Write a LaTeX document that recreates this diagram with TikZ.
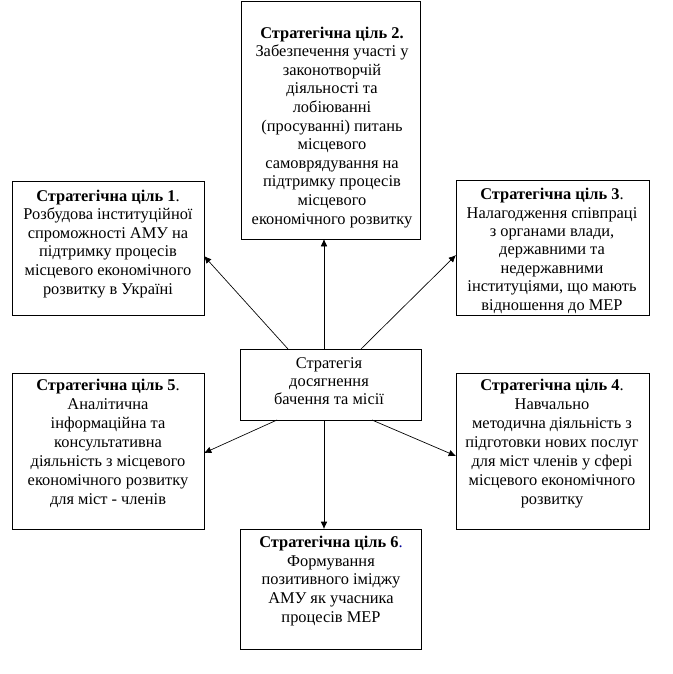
\documentclass[tikz,border=0pt]{standalone}
\usepackage{fontspec}
\setmainfont{Liberation Serif}
\usetikzlibrary{arrows.meta,calc}
\begin{document}
\begin{tikzpicture}[x=0.75pt,y=-0.75pt,
  box/.style={draw, line width=0.75pt, inner sep=0pt, outer sep=0pt, anchor=north west},
  txt/.style={inner sep=0pt, align=center, anchor=base},
  conn/.style={line width=0.5pt, -{Latex[length=5.5pt,width=5pt]}}]
\useasboundingbox (0,0) rectangle (673,674);
% boxes
\node[box, minimum width=144pt, minimum height=100.5pt] (b1) at (12,181) {};
\node[box, minimum width=134.25pt, minimum height=177.75pt] (b2) at (241,2) {};
\node[box, minimum width=144.75pt, minimum height=101.25pt] (b3) at (456,180) {};
\node[box, minimum width=135.75pt, minimum height=53.25pt] (c) at (240,349) {};
\node[box, minimum width=144pt, minimum height=117pt] (b5) at (12,373) {};
\node[box, minimum width=144.75pt, minimum height=117pt] (b4) at (456,373) {};
\node[box, minimum width=135.75pt, minimum height=90pt] (b6) at (240,529) {};
% texts (anchored at the baseline of their last line)
\node[txt, font=\fontsize{12.3}{13.9}\selectfont] (t1) at (108,294) {\textbf{Стратегічна ціль 1}.\\Розбудова інституційної\\спроможності АМУ на\\підтримку процесів\\місцевого економічного\\розвитку в Україні};
\node[txt, font=\fontsize{12.3}{13.95}\selectfont] (t2) at (332,224) {\textbf{Стратегічна ціль 2.}\\Забезпечення участі у\\законотворчій\\діяльності та\\лобіюванні\\(просуванні) питань\\місцевого\\самоврядування на\\підтримку процесів\\місцевого\\економічного розвитку};
\node[txt, font=\fontsize{12.3}{13.8}\selectfont] (t3) at (552,310) {\textbf{Стратегічна ціль 3}.\\Налагодження співпраці\\з органами влади,\\державними та\\недержавними\\інституціями, що мають\\відношення до МЕР};
\node[txt, font=\fontsize{12.3}{13.5}\selectfont] (tc) at (329,404) {Стратегія\\досягнення\\бачення та місії};
\node[txt, font=\fontsize{12.3}{14.2}\selectfont] (t5) at (108,504) {\textbf{Стратегічна ціль 5}.\\Аналітична\\інформаційна та\\консультативна\\діяльність з місцевого\\економічного розвитку\\для міст - членів};
\node[txt, font=\fontsize{12.3}{14.2}\selectfont] (t4) at (552,504) {\textbf{Стратегічна ціль 4}.\\Навчально\\методична діяльність з\\підготовки нових послуг\\для міст членів у сфері\\місцевого економічного\\розвитку};
\node[txt, font=\fontsize{12.3}{13.9}\selectfont] (t6) at (331,622) {\textbf{Стратегічна ціль 6}\textcolor{blue!60!black}{.}\\Формування\\позитивного іміджу\\АМУ як учасника\\процесів МЕР};
% connectors
\draw[conn] ($(c.north west)+(48,0)$) -- ($(b1.north east)+(0,75)$);
\draw[conn] ($(c.north west)+(84,0)$) -- ($(b2.south west)+(83,0)$);
\draw[conn] ($(c.north west)+(121,0)$) -- ($(b3.north west)+(0,75)$);
\draw[conn] ($(c.south west)+(37,0)$) -- ($(b5.north east)+(0,80)$);
\draw[conn] ($(c.south west)+(84,0)$) -- ($(b6.north west)+(84,0)$);
\draw[conn] ($(c.south west)+(132,0)$) -- ($(b4.north west)+(0,83)$);
\end{tikzpicture}
\end{document}
